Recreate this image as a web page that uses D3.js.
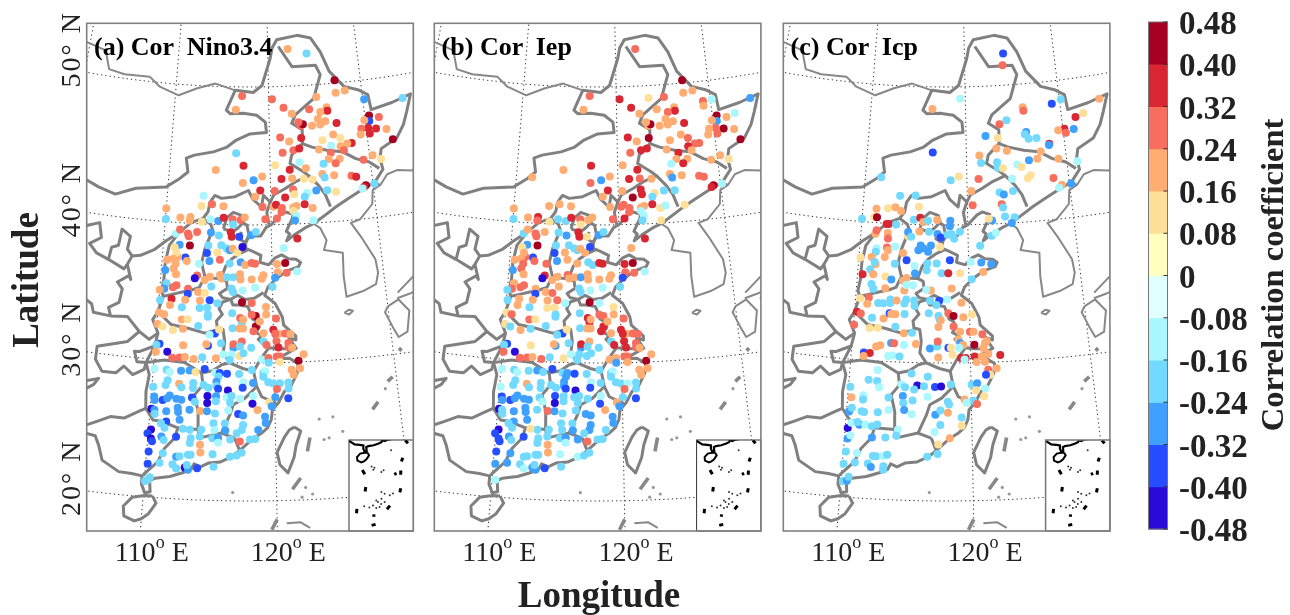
<!DOCTYPE html>
<html><head><meta charset="utf-8">
<script src="https://cdn.jsdelivr.net/npm/d3@7"></script>
<style>html,body{margin:0;padding:0;background:#fff}svg{display:block;filter:blur(0.45px)}text{font-family:"Liberation Serif",serif}</style>
</head><body><div id="chart"></div>
<script>
// ---------- labels and colour classes ----------
const panelTitles=["(a) Cor  Nino3.4","(b) Cor  Iep","(c) Cor  Icp"];
const barTicks=[0.48,0.40,0.32,0.24,0.16,0.08,0,-0.08,-0.16,-0.24,-0.32,-0.40,-0.48];
const barLabels=["0.48","0.40","0.32","0.24","0.16","0.08","0","-0.08","-0.16","-0.24","-0.32","-0.40","-0.48"];
const classColors=["#290ad8","#264dff","#3fa0ff","#72d9ff","#aaf7ff","#e0ffff","#ffffbf","#ffe099","#ffad72","#f76d5e","#d82632","#a50021"];
const lonTicks=[110,120];
const latTicks=[50,40,30,20];
const gridLons=[100,110,120,130,140];
const gridLats=[20,30,40,50];

// ---------- stations: lon, lat, r(Nino3.4), r(Iep) ----------
const stationsAB=[
[122.25,52.7,.2,.28],[124.35,52.3,-.2,null],[127.2,50.2,.44,.44],[125.1,49.1,.2,.28],[127.2,49.3,.2,.2],[128.2,49.4,.2,.2],[130.15,48.6,-.28,-.12],[134.2,48.3,-.2,-.28],[117.15,49.35,.28,.28],[120.35,49.1,.28,.36],[116.5,48.35,.2,.2],[121.55,48.45,.28,.36],[122.4,48,.2,.2],[124.25,48.25,.28,.2],[126.1,48.3,.2,.2],[126.15,48.05,.36,.36],[125.4,48,.2,.28],[125.1,47.5,.2,.2],[125.85,47.3,.2,.2],[125.3,47.1,.2,.2],[124.45,47.05,.2,.2],[123.25,47.1,.28,.2],[123.5,47.2,.44,.44],[123.05,47.35,.28,.2],[127,47.1,.36,.36],[130.45,47.4,.44,.44],[130.4,47,-.36,-.28],[131.45,47.2,.28,.2],[129.9,47.1,.2,.2],[130.2,46.5,.36,.28],[129.5,46.5,.28,.2],[131,46.4,.36,.44],[130.3,46.1,.36,.28],[129.35,46.1,.2,.2],[132.05,46.25,.2,.2],[132.55,45.45,.44,.44],[126.55,46.3,.2,.2],[127.25,46,.12,.28],[125.4,45.95,.12,.2],[123.25,46.2,.36,.44],[121.1,46.3,.28,.36],[122,46,.2,.2],[126.25,45.5,-.12,null],[128.35,45.55,.36,.28],[127.9,45.55,.2,.28],[127.2,45.4,.2,.36],[127.5,45.1,.28,.2],[126.15,45,.28,.36],[125,45.3,.2,.2],[122.4,45.35,.28,.36],[123,45.45,.36,.36],[121.3,45.2,.28,.28],[116.6,45.2,-.2,null],[125.9,44.55,.2,.2],[127,44.5,.2,.2],[126.55,44.2,.28,.36],[125.35,44.25,-.2,-.12],[122.95,44.45,-.12,null],[129.35,44.25,.28,.2],[130.3,44.5,.2,.2],[131.1,44.15,.12,.12],[123.55,44,.2,null],[117.35,44.3,.36,.36],[120.5,44.3,.12,.2],[121.95,43.95,.36,.36],[114.6,43.95,.2,.2],[125.15,43.5,.2,.2],[126.3,43.35,.2,.2],[125.35,43.25,-.2,-.28],[128,43.2,.28,.28],[128.45,43.1,.36,.28],[121.1,43.3,.36,.36],[122.15,43.3,.2,.28],[123.3,43.25,.12,.2],[124.15,43.15,.12,null],[119.2,43.5,.2,.2],[118.35,43.25,-.28,-.28],[117.3,43.05,.2,.28],[129.3,42.4,.44,.44],[129.1,42.3,.36,.36],[130.15,42.45,-.2,-.12],[128.95,42.2,-.12,null],[124.45,42.35,-.28,-.2],[125.5,42.3,-.2,-.2],[126.35,42.15,.12,null],[122.2,42.5,.28,.36],[119,42.5,.36,.36],[120.4,42.45,.28,.2],[113.5,42.05,-.12,null],[123.55,42.2,-.12,.12],[123.3,41.95,-.2,-.2],[122.3,42.15,.12,.36],[121.4,41.95,.36,.44],[118.5,42.05,.2,.2],[119.2,41.3,.28,.2],[120.25,41.3,.2,.28],[120.5,41.45,.36,.28],[121.05,41.2,.28,.28],[121,40.9,.28,.28],[122.15,41.2,.2,.2],[122.45,41.3,.2,.2],[123.25,41.4,.36,.36],[124,41.1,.2,.12],[122.15,40.95,.12,-.12],[120.55,40.45,.28,.36],[119.45,40.4,.28,.28],[122.4,40.6,-.12,-.12],[122.25,40.25,-.28,-.2],[124,40.2,-.12,.12],[126.35,41.2,null,.12],[124.5,41.25,null,-.12],[123.45,49.1,null,.12],[132.35,47.4,null,-.12],[129.2,48.55,null,.28],[129.2,48.2,null,.2],[111.55,43.3,null,.2],[122.4,38.95,.36,.36],[121.1,38.3,-.12,.2],[121.2,37.2,.44,.44],[120.45,37.15,.2,.36],[122.25,36.55,-.12,-.12],[121.3,36.5,.28,.28],
[110,40.95,.2,.2],[113.35,41.3,.12,.2],[114.35,41.45,.28,.2],[115.45,41.33,.2,.2],[110.05,40.2,-.2,-.2],[111.4,40.37,.2,.2],[112.35,40.46,.2,.36],[112.3,40.2,.2,.28],[113.45,40.15,.12,.12],[114.25,40.36,-.12,-.2],[115,40.26,-.28,-.2],[115.5,40.5,.36,.36],[116.35,40.4,.28,.28],[117.1,40.35,.28,.2],[117.5,40.55,.2,.2],[116.4,40.03,-.2,.12],[111.1,39.19,-.12,-.2],[111.45,39.5,.28,.2],[112.2,39.25,.28,.28],[112.3,39.05,.28,.28],[113.05,39.4,.28,.2],[114.35,39.4,-.28,-.2],[115.1,39.2,-.2,-.28],[116.2,39.47,.36,.36],[116.3,39.13,.36,.36],[117,39.15,-.36,.12],[118.1,39.25,-.28,-.28],[118.55,39.5,-.2,-.2],[111.5,38.4,-.28,-.28],[111.05,38.2,.12,.12],[112.45,38.4,.44,.44],[114.15,38.45,-.2,-.2],[114.05,37.9,-.36,-.36],[115,37.97,.12,.2],[115.35,38.5,-.2,-.2],[115.85,38.27,-.2,-.2],[116.15,38.15,-.28,-.2],[116.4,38.27,.2,.2],[116.85,38,.12,.2],[117.3,38.4,-.44,-.36],[117.15,37.3,-.28,-.2],[112.1,37.5,-.36,-.36],[112.25,37.25,.2,.28],[111.4,37.5,.2,.28],[111.25,37.8,.12,.2],[113.35,37.1,-.12,.28],[114.3,37.33,-.28,-.28],[115.25,37.45,.28,.2],[116.15,37.2,-.2,.2],[117.55,37.1,.2,-.2],[118.15,37.25,.28,.36],[118.45,37.2,.28,.36],[110.45,37.25,.2,.2],[111,37.35,.2,.2],[111.25,37,.2,.28],[110.35,36.5,-.28,-.28],[111.1,36.65,.2,.28],[111.35,36.25,.2,.2],[110.55,35.55,-.2,.2],[110.4,35.14,-.28,.28],[111.45,35.45,.28,.28],[111.15,35.3,.28,.28],[110,35.05,.2,-.2],[113.25,36.25,.28,.36],[113.05,36.05,-.44,-.44],[113.95,35.95,.2,.2],[114.4,36.2,.2,.2],[115.3,36.35,.2,.28],[115.45,36.1,.2,.2],[115.95,36.2,-.2,.2],[116.5,36.2,-.2,-.28],[117.1,36.42,.2,.2],[117.15,36.05,.2,.2],[118.15,36.05,.2,.2],[119.2,36.35,.2,.2],[119.05,36.1,.2,.2],[120.5,36.55,.2,.28],[120.25,36.15,-.28,-.36],[120,35.5,-.2,-.2],[112.5,35.25,.28,.2],[112.5,34.9,-.36,-.36],[113.4,35.05,.2,.2],[114,35,.12,.28],[114.55,35.5,-.2,.2],[116.35,35.38,-.2,-.2],[116.5,35.14,-.2,-.2],[117.35,35.26,-.12,-.12],[118.45,35.45,-.12,-.12],[110.1,34.3,-.2,-.2],[111.1,34.45,.36,.2],[112.3,34.45,.2,.2],[113.6,34.45,.2,.2],[114.45,34.5,-.36,.28],[115.15,34.3,-.2,-.12],[113.6,33.9,-.2,.12],[114.25,33.95,-.2,.12],[112.05,33.9,-.2,-.2],[111,34,.2,.2],[110.1,33.4,.2,.12],[110.55,33.3,.2,.28],[114.35,33.3,-.2,-.2],[112.1,33,.2,.28],[112.6,33.05,.12,.12],[117.3,34.4,.44,.44],[118.15,34.35,.28,-.12],[119.4,34.05,.2,.12],[118.5,33.4,.44,.28],[117.3,32.95,-.2,.36],[118.5,32.65,.44,.36],[118.85,33,.2,.2],[120.25,33.2,.28,.28],
[116.45,33.6,-.2,-.2],[117.15,33.25,.28,.36],[117.4,33.15,.2,.2],[118.15,33.5,.28,.28],[119.4,33.5,.2,.2],[118.3,32.3,.28,.36],[116.5,32.5,-.2,-.2],[117.1,32.5,.2,.2],[117.4,32.5,.2,.2],[120,32.4,.36,.36],[120.45,32.1,.2,.2],[121,32.1,.28,.28],[121.45,32.05,.2,.28],[120.15,32.1,.28,.36],[119.15,32.15,.2,.2],[114.35,33.45,-.2,-.2],[110.05,32.55,.2,.12],[110.5,32.4,.12,-.2],[111.4,32.2,.12,.2],[112.25,32.35,.2,-.2],[113.55,32.6,-.2,-.2],[115,32.1,-.36,-.36],[114.55,32,-.12,-.2],[115.35,32.4,.12,.12],
[110.35,31.15,-.36,-.36],[110.1,31.05,-.2,-.2],[112.35,31.15,.2,.12],[114.45,31.2,-.36,-.28],[114.3,31.3,.2,.2],[115.55,31.4,-.2,-.2],[116.6,31.1,-.28,-.28],[116.6,31.35,.28,.36],[117.3,31.55,.28,.2],[117.15,31.2,-.2,-.2],[118.1,31.1,-.2,-.2],[119.15,31.55,-.2,-.2],[119.4,31.3,.28,.36],[120.25,31.55,.28,.36],[120.4,31.1,.36,.36],[121.25,31.4,.28,.28],[121.25,31.1,.28,.28],[121.55,31.05,.2,.2],[110.1,30.55,.2,.28],[111.05,30.6,-.44,-.44],[111.5,30.2,.28,.28],[112.1,30.25,.28,.28],[112.55,30.3,.2,.2],[113.3,30.2,.2,.28],[114,30.35,-.2,-.2],[115.15,30.3,.2,.12],[115.75,30.6,-.12,-.12],[116.45,30.6,-.12,-.2],[116.3,30.2,-.2,-.2],[117.1,30.5,.12,-.2],[117.45,30.7,-.2,-.2],[119,30.25,-.12,.2],[119.55,30.35,.28,.2],[119.55,30,-.2,-.28],[120.25,30.45,.28,.28],[120.5,30.45,.28,.28],[120.5,30.05,.12,.2],[122.05,30.1,.44,.44],[122.5,30.55,.2,.2],
[110.1,29.3,-.12,-.12],[111.1,29.3,-.2,-.2],[111.35,29.15,-.12,-.12],[112.3,29.3,-.28,-.2],[113,29.35,-.28,-.28],[113.5,29.25,.12,-.2],[114.25,29.5,-.36,-.36],[115.1,29.25,-.12,-.2],[115.5,29.25,-.36,-.28],[116.1,29.2,-.36,-.36],[117.1,29.2,-.2,-.2],[115.4,29,-.2,-.28],[118.15,29.5,-.2,-.2],[119.1,29.25,-.2,-.2],[119.25,29.4,-.12,-.12],[121.45,29.45,.2,.2],[121.6,29.1,.2,.2],[122.15,29.55,.2,.2],[119.1,29,-.2,-.2],
[111.25,28.55,-.2,-.2],[111.1,28.2,-.2,-.2],[110.1,28,-.2,-.12],[112.2,28.35,.2,.2],[112.4,28.1,-.2,-.2],[113.35,28.45,-.2,-.2],[113.35,28.1,-.2,-.2],[114.2,28.35,-.2,-.2],[115.25,28.6,-.28,-.28],[115.25,28.3,-.2,-.28],[114.6,28.15,-.2,-.2],[117.45,28.6,-.12,-.12],[118.25,28.55,-.28,-.2],[115.4,28.1,-.36,-.36],[116.2,28,-.44,-.44],[117.4,28.2,-.36,-.36],[119.5,28.6,-.2,-.2],[119.9,28.5,-.2,-.2],[120.45,28.5,-.2,-.12],[121.15,28.55,-.2,-.2],[120.2,28.1,.28,.28],[121.15,28.1,-.2,-.2],
[110.25,27.3,-.28,-.36],[110.3,27.05,-.28,-.28],[110.95,27.1,-.36,-.36],[111.3,27.25,-.28,-.28],[111.5,27.45,-.28,-.28],[112.05,27.25,-.28,-.28],[112.45,27.2,-.28,-.28],[113.3,27.4,-.36,-.2],[113.55,27.1,-.2,-.12],[114.55,27.55,-.44,-.36],[114.55,27.05,-.44,-.44],[115.25,27.55,-.28,-.2],[115.25,27.2,-.2,-.2],[116.1,27.5,-.12,-.2],[116.5,27.6,-.2,-.2],[117.2,27.4,-.12,-.2],[118.25,27.6,-.12,-.12],[118.2,27.05,-.44,-.36],[119.55,27.15,.12,.2],[120.05,27.5,-.28,-.2],[121.1,27.4,-.36,-.36],[116.4,27.1,-.2,-.2],
[110.1,26.4,-.44,-.44],[110.35,26.35,-.28,-.2],[110.4,26.05,-.2,-.2],[111.3,26.3,-.28,-.28],[112.2,26.6,-.28,-.28],[112.25,26.3,-.28,-.28],[113.15,26.5,-.28,-.2],[114,26.45,.2,.28],[114.55,26.45,-.28,-.28],[115.2,26.3,-.2,-.2],[116.25,26.55,-.12,-.2],[117.05,26.3,-.36,-.28],[117.45,26.2,-.28,-.28],[118.6,26.6,.2,.2],[119.2,26.1,-.28,-.28],[119.75,26.85,-.28,-.28],
[111.35,25.55,-.36,-.28],[110.95,25.4,-.2,-.2],[112.4,25.75,-.28,-.28],[110.2,24.9,-.44,-.44],[111.25,25.1,-.2,-.2],[115.1,25.6,-.2,-.2],[115.2,25.1,-.12,-.2],[116,25.6,-.2,-.2],[117.45,25.5,-.2,-.28],[117.35,25.15,-.2,-.28],[116.95,24.9,-.2,-.2],[113.25,25.05,-.2,-.2],[112.7,25.1,-.2,.12],[114.15,25.1,-.2,-.2],[118.65,25.15,-.28,-.2],[119.25,25.65,-.28,-.28],[116.05,25.1,-.28,-.28],[109.95,24.6,-.36,-.36],
[110.25,24.25,-.44,-.36],[110.35,24.05,-.36,-.36],[111.05,24.45,-.28,-.28],[111.25,24.2,-.2,-.2],[112.2,24.5,-.36,-.36],[113.35,24.45,-.2,-.2],[114.05,24.6,-.2,-.2],[115.05,24.5,-.2,-.2],[115.5,24.55,-.28,-.28],[115.5,24.2,-.12,-.12],[116.45,24.45,-.2,-.28],[117.2,24.3,.28,.28],[118,24.45,-.2,-.2],[118.4,24.5,-.2,-.2],[114.1,24,.2,.2],[113.3,24.1,-.2,-.2],
[110.15,23.3,-.36,-.36],[111.25,23.25,-.2,-.28],[114.15,23.45,.2,.2],[115.1,23.35,-.2,-.12],[111.05,22.55,-.2,-.28],[112.3,23.05,-.28,-.2],[112.55,23.1,-.2,-.2],[113.2,23.25,-.2,-.2],[113.4,23.25,-.2,-.2],[116.45,23.2,-.2,-.12],[116.95,23.3,-.2,-.2],[117.35,23.5,-.2,-.2],[110.15,22.4,-.36,-.28],[112.05,22.5,-.2,-.2],[112.35,22.2,-.2,-.12],[113,22.3,-.44,-.28],[113.25,22.15,-.28,-.28],[113.15,22.5,-.2,-.2],[113.95,22.3,-.36,-.36],[115.2,22.45,-.2,-.2],[110.25,21.25,-.2,-.12],[110.4,21.45,-.2,null],[110.05,21.15,-.2,null]
];

// ---------- stations of panel (c): lon, lat, r(Icp) ----------
const stationsC=[
[124.35,52.3,-.36],[124.2,51.45,.28],[116.5,48.39,.2],[119.45,49.15,-.12],[129.15,48.35,-.36],[130.15,48.6,-.2],[134.2,48.25,.2],[126.05,48.3,.2],[126.1,48.05,.28],[131.45,47.2,.36],[132.3,47.4,.12],[123.5,47.2,.28],[124.25,47.45,-.2],[122,46.4,-.28],[123.25,46.2,.12],[130.15,46.45,.36],[130.25,46.15,.28],[129.5,46.4,.2],[131.1,46.35,-.28],[126.2,46.5,-.28],[126.05,46.35,-.2],[126.4,46,-.2],[127.2,46,-.2],[128.45,45.5,.36],[128.4,45.4,-.28],[123.05,45.45,.2],[124.1,45.25,.2],[127.5,45,.2],[116.6,45.25,-.36],[121.3,45,.2],[121.45,44.45,-.2],[123.05,44.45,-.2],[123.1,44.05,-.2],[123.6,44,.12],[125.05,44.2,-.12],[125.45,44,.12],[126.25,44.45,-.28],[127.1,44.5,.2],[129.2,44.35,.2],[131.05,44,-.12],[118.4,43.25,-.2],[119.2,43.5,.12],[121.15,43.3,.28],[111.55,43.3,-.2],[124.45,43.2,-.12],[126.3,43.35,.12],[126,43.15,.12],[128.5,43,.28],[129.25,42.45,.2],[130.15,42.45,-.28],[128.95,42.25,-.12],[120.4,42.45,.2],[123.15,42.25,-.2],[123.55,42.1,-.28],[124.45,42.3,-.2],[113.5,42.05,-.2],[115,42.1,-.2],[115.35,41.3,.12],[111.3,41,.2],[112.4,41.1,.12],[113.1,41.2,.2],[113.65,40.95,.2],[120.5,41.4,.28],[123.3,41.4,.28],[123.4,41.15,-.2],[123.55,40.5,-.2],[124.45,40.4,-.2],[124.15,40,-.28],[122.3,40.25,-.28],[122,40.4,.12],[110,40.2,-.2],[111.15,40.4,.12],[111.4,40.4,.44],[112.35,39.95,.36],[112.55,39.95,.36],[113.25,39.95,-.2],[114.9,40.35,-.2],[115.5,40.5,.36],[115.8,40.2,.2],[116.25,40.3,-.2],[117.1,40.35,.2],[118.35,40.3,-.28],[111.35,39.2,.2],[111.45,39.45,.28],[112.5,39.3,.2],[112.55,38.9,.28],[114.4,39.15,.12],[114.4,39.45,-.28],[115.45,39.5,.2],[116.35,39.5,-.2],[117.15,39.35,-.28],[117.45,39.1,-.36],[118.3,39.9,-.28],[118.45,39.35,-.2],[118.1,39.3,-.2],[119.25,39.5,-.2],[118.7,39,-.2],[122.2,39.15,-.2],[122.6,39.35,-.12],[121.1,38.45,-.2],[111.55,38.15,-.12],[111.5,37.9,-.2],[112.5,38.25,.28],[112.6,38.05,.2],[113.25,38.35,-.12],[114,37.9,.2],[114.7,39.1,-.2],[115.6,38.5,-.28],[115.4,38.15,-.28],[115.85,38.3,-.28],[116.55,38.5,-.28],[116.3,38.05,-.28],[117.4,38.4,.12],[110.15,37.4,.12],[111.15,37.5,.2],[112.35,37.55,.2],[111.55,37,.2],[111.45,37.15,-.2],[113.3,37.1,-.2],[114.35,37.4,-.36],[115.1,37,-.12],[116.25,37.2,-.2],[117.1,37.2,-.2],[118.3,37.45,-.36],[120.2,37.3,-.12],[121.15,37.25,-.28],[122.05,37.1,-.28],[110.45,36.2,.36],[111.1,36.6,-.2],[111.4,36.25,.2],[112.5,36.15,.12],[113.05,35.95,-.28],[114.1,35.9,.2],[114.4,36.1,.2],[115.15,36.45,-.28],[116.2,36.7,-.2],[117.55,36.5,-.2],[118.15,36.5,.36],[119.2,36.5,.12],[121.3,36.55,.2],[120.25,36.05,-.2],[111.3,35.55,-.2],
[111.5,35.2,-.2],[112.55,35.3,.2],[114.25,35.2,.2],[114.4,35.6,-.12],[115,35.6,-.12],[116.6,35.25,.2],[116.2,35.3,-.12],[118.45,35.4,.2],[110.4,34.45,.12],[111.15,34.55,.28],[111.05,34.1,.2],[112,34.2,-.2],[112.45,34.2,-.2],[113.05,34.5,-.2],[113.05,34.25,-.2],[113.6,34.45,.2],[114.3,34.25,-.2],[114.45,34.55,-.2],[115.15,34.5,-.2],[115.2,34.1,-.2],[116.55,34.5,-.2],[117.35,34.5,-.36],[117.1,34.2,-.2],[118.05,34.6,-.12],[119.3,34.35,.2],[116.45,33.6,-.2],[110.2,33.45,.36],[110.55,33.35,.28],[111.55,33.1,-.2],[112.55,33.1,.2],[113.05,33.5,-.36],[113.2,33.45,.2],[113.55,33.45,.2],[114.35,33.5,-.2],[118.15,33.6,.28],[118.6,33.4,.44],[117.3,33.4,-.2],[117.4,33.15,-.2],[120.2,33.5,.12],[119.45,33.3,.2],[110.05,32.5,.28],[111.4,32.35,.12],[112.1,32.4,.12],[113.6,32.55,-.2],[114.35,32.1,.2],[115.05,32.15,-.2],[117.3,32.6,.2],[118.6,32.65,.28],[117.5,33.1,.2],[119.15,32.25,.2],[120,32.25,.28],[120.3,32.25,.2],[121.05,32.05,.28],[119,31.7,.2],[119.15,31.45,-.28],[119.4,31.3,.2],[120.35,31.3,.44],[121.25,31.4,.2],[121.4,31.55,.2],[121.1,31.05,.2],[121.5,30.6,.2],[112.05,31.05,.2],[112.4,31.15,.2],[113.3,31.35,-.28],[113.55,31.35,.28],[114.4,31.25,-.12],[115.4,31.35,.2],[116.6,31.05,-.28],[117.2,31.2,-.2],[117.25,31.55,.28],[118.15,31.1,-.36],[118.35,31.1,.12],[119.05,31.1,-.12],[111.05,30.55,-.36],[111.55,30.55,.36],[111.05,30.3,.2],[113.1,30.4,-.12],[113.45,30.45,-.12],[114.05,30.4,-.2],[117.3,30.4,.2],[118.5,30.6,.12],[119.2,30.35,.36],[119.6,30.35,.36],[119.5,30.25,-.12],[120.35,30.45,.36],[120.95,30.45,.2],[120.5,30.05,.2],[121.2,30.05,.2],[122.5,30.5,.36],[122.15,29.55,.2],[121.45,29.45,.28],[121.6,29.1,.12],[121.25,29.1,-.36],[112.3,29.35,-.12],[111.6,28.6,-.2],[112.3,28.55,-.2],[112.5,28.1,-.12],[110.15,28,-.2],[115.1,29.2,-.2],[116.45,29,-.2],[114.3,28.4,-.12],[114.6,28.2,-.2],[115.6,28.35,-.44],[116.15,28.3,-.2],[117.05,28.25,-.36],[117.55,28.3,-.44],[118.35,28.45,-.2],[120.05,28.4,-.2],[120.5,28.5,-.28],[121.15,28.1,-.12],[120.4,28,.12],[111.25,27.45,-.12],[111.25,27.15,-.2],[110.3,27.25,.2],[113.3,27.4,-.2],[114.45,27.55,-.28],[114.5,27.05,-.2],[115.25,27.25,-.2],[115.35,28.05,-.2],[116.45,27.55,-.12],[118.1,27.2,-.2],[118.2,27,-.2],[119.45,27.35,.2],[121.05,27.55,.12],[120.15,27.25,-.2],[120.45,27,.28],[119.6,27.1,-.12],[110.2,26.2,-.28],[110.4,26.5,-.2],[111.2,26.3,-.2],[111.4,26.25,-.2],[112.5,26.3,-.2],[113.35,26.5,-.12],[114.6,26.55,-.28],[115.2,26.25,-.12],[117.1,26.25,-.28],[117.5,26.55,-.2],[118.1,26.4,.2],[119.2,26.05,-.2],[110.2,25,-.44],[110.45,25.4,-.12],[111.1,25.3,-.28],[111.55,25.35,-.12],[112.1,25.25,-.2],[112.5,25.4,-.2],[110.95,25.5,-.2],[114.15,25.1,-.12],[117.5,25.5,-.2],[117.05,25,-.12],[119.2,25.45,.12],[110.25,24.25,-.28],[110.45,24.5,-.12],[112.15,24.45,-.28],[113.2,24.5,-.2],[114.05,24.65,-.2],[118.25,24.55,.2],[117.35,24.1,.12],[110.2,23.3,-.2],[111.05,23.25,-.12],[112.3,23.1,-.2],[112.55,23.1,-.2],[113.1,23.15,-.12],[113.4,23.25,-.2],[116.5,23.2,-.2],[117.3,23.4,-.2],[110.95,22.55,-.2],[110.1,22.4,-.2],[111.95,22.55,-.2],[112.2,22.3,-.28],[113.15,22.4,-.2],[113.15,22.15,-.2],[110.15,21.15,-.2],[110.45,21.2,-.28],[110.55,21.5,-.2]
];

// ---------- geography in lon/lat ----------
const northBorder=[[101.8,42.4],[103.3,41.95],[105,41.6],[106.9,42.2],[109.8,42.5],[111.1,43.2],[111.85,43.7],[111.6,44.7],[112.4,44.95],[114.3,45.25],[115.6,45.6],[116.6,46.15],[118,46.6],[119.7,46.7],[119.6,47.45],[118.7,47.95],[117.3,48.1],[115.9,48.05],[115.5,48.3],[116.4,49.75],[118.35,49.6],[119.3,50.1],[120.25,52.05],[120.5,52.8],[121.05,53.4],[123.4,53.65],[124.9,53.4],[125.9,52.35],[126.7,50.9],[128.15,49.7],[129.6,49.35],[130.6,48.9],[130.75,47.8],[133,48.1],[135.1,48.5],[134.4,47.3],[133.85,46.4],[132.95,45.5],[131.25,44.9],[131,44.2],[131.15,43.4],[130.2,42.55],[129.1,42.2],[127.4,41.55],[126.2,41.05],[125.5,40.7],[124,39.95]];
const eastCoast=[[124,39.95],[123.2,39.7],[122.1,39.2],[121.4,38.8],[121.7,39.3],[121.4,39.5],[122,40.4],[122.1,40.7],[121.4,40.9],[120.9,40.7],[120,40],[119.5,39.8],[119,39.2],[118,39.2],[117.6,38.8],[117.6,38.3],[118.2,38.1],[119,37.8],[118.9,37.3],[119.7,37.1],[120.3,37.6],[120.9,37.8],[121.5,37.5],[122.2,37.45],[122.6,37.2],[122.4,36.9],[121.6,36.7],[120.9,36.4],[120.3,36.05],[119.6,35.5],[119.3,34.9],[120.2,34.3],[120.8,33.3],[120.9,32.7],[121.9,31.9],[121.9,31.6],[121.3,31.8],[121.9,31],[121,30.6],[120.3,30.3],[121.3,30.3],[122,29.9],[121.9,29.2],[121.6,28.7],[121.3,28.2],[120.8,27.9],[120.3,27.1],[119.8,26.6],[119.7,25.9],[119.4,25.3],[118.9,24.9],[118.2,24.5],[117.6,24],[117,23.5],[116.6,23.2],[115.7,22.8],[114.8,22.7],[114.2,22.4],[113.7,22.6],[113.5,22.2],[112.8,21.9],[111.9,21.6],[110.8,21.4],[110.4,21.2],[110.5,20.4],[110.1,20.3],[109.8,20.9],[109.8,21.5],[109,21.6],[108,21.65],[106.65,22.35],[106.25,23.4],[105.9,24.05],[105.1,24.15]];
const hainan=[[110.7,20.1],[111,19.6],[110.5,18.8],[110,18.4],[109.5,18.2],[108.7,18.5],[108.6,19.2],[109.2,19.9],[110.1,20.1],[110.7,20.1]];
const taiwan=[[121.5,25.3],[122,25],[121.6,24],[121.4,23.1],[120.9,22],[120.3,22.6],[120.1,23.5],[120.7,24.6],[121.1,25.1],[121.5,25.3]];
const provinceLines=[
[[121.2,52.9],[122.65,51.4],[125.25,51.4],[125.7,50.7],[124.8,49],[122.75,47.9],[122.35,47.3],[123.4,46.8],[123.35,45.8],[122.2,45],[122,44.4],[123.3,43.75],[123.8,43.45],[122.45,43.05],[121.45,42.6],[120.3,42.15],[119.95,41.65],[119.3,42.15],[119.1,41.3],[118.3,41.85],[117.85,42.5],[116.55,42.04],[115.25,41.9],[114.6,42.1],[114.15,41.6],[114,40.9],[113.55,40.4],[112.45,40.05],[111.4,39.3],[110.55,38.3],[110.3,37.05],[110.3,35.85],[110.15,35],[110.35,34.6],[110,33.45],[109.6,32.85],[110.15,31.9],[109.95,30.95],[109.35,29.7],[109.7,28.85],[109.55,27.6],[109.65,26.4],[110.3,25.6],[110.95,25.55],[112.3,25.15],[113.9,25.1],[113.85,26.4],[113.5,27.6],[114.15,28.35],[114,29.2],[112.55,29.9],[110.85,30],[109.35,29.7]],
[[123.35,45.8],[124.3,45.5],[125.8,45.2],[127.3,45],[128.6,44.4],[129.9,44.05],[130.8,43.5]],
[[123.8,43.45],[124.7,42.7],[125.3,42],[125.7,41.1]],
[[119.95,41.65],[119.6,40.9],[119.8,40]],
[[113.55,40.4],[114.3,40],[114.5,39.6],[113.85,38.2],[113.6,37.2],[113.8,36.6],[113.95,36.2],[113.5,35.4],[112.9,35.2],[112,35],[111,34.75],[110.35,34.6]],
[[115.5,39.7],[115.8,40.5],[116.4,40.9],[117.2,40.7],[117.4,40.2],[116.9,39.8],[116.4,39.5],[115.9,39.6],[115.5,39.7]],
[[117.2,40.2],[117.7,40],[117.9,39.3],[117.6,38.7],[117,39],[117.2,39.5]],
[[113.95,36.2],[114.8,36.1],[115.4,36.1],[115.8,37],[116.3,37.5],[117,37.9],[117.8,38.2]],
[[115.4,36.1],[115.9,35.9],[116,35.4],[115.3,35],[115.6,34.7],[116.3,34.6],[116.9,34.9],[117.6,34.6],[118.4,34.7],[119.2,35.1]],
[[116.3,34.6],[115.6,34.4],[115.3,33.9],[115.6,33.5],[115.1,33],[115.2,32.5],[115.7,32.4],[115.85,31.55],[115.75,30.7],[116.3,30],[117.4,29.6],[118.3,29.4],[118.9,30.3],[119.6,31.1],[120.4,31],[121,31]],
[[116.3,34.6],[116.5,34.2],[117,34.2],[117.8,34.1],[118,33.7],[118.2,33.2],[118.6,33],[118.8,32.6],[118.5,32.2],[119,32],[118.7,31.7],[119.2,31.3],[119.6,31.1]],
[[110,33.45],[111.2,32.6],[112.7,32.4],[114.15,32.1],[115.3,32.4]],
[[114,29.2],[114.9,29.4],[115.65,29.85],[116.3,30]],
[[118.3,29.4],[118.55,28.3],[118.95,27.55],[120,27.1],[120.2,26.9]],
[[118.55,28.3],[117.6,27.45],[116.65,26.97],[116.4,26.25],[115.75,24.9],[114.05,24.5],[113.9,25.1]],
[[116.8,24.55],[115.75,24.9]],[[116.8,24.55],[117.1,23.85],[117.3,23.5]],
[[112.3,25.15],[112.1,24.4],[111.35,23.6],[110.9,22.6],[109.85,21.55]],
[[103.55,33.8],[104.2,33.5],[104.45,32.9],[105.95,32.8],[107.4,32.9],[108.55,31.9],[109.45,31.4],[110.15,31.9]],
[[105.95,32.8],[105.7,33.4],[106.55,33.85],[106.7,34.85],[106.2,35.3],[107.15,35.85],[107.35,35.6],[106.9,36.65],[107.25,37.3],[108,37.4],[109.2,37.9],[110.2,38.6],[111.4,39.3]],
[[107.25,37.3],[106.75,37.75],[106.9,38.7],[106.05,39.15],[105.9,37.95],[105.3,37.75],[105.15,36.85],[106.65,36.3],[106.9,36.65]],
[[102.55,39],[103.9,39.4],[104.25,38.35],[103.25,37.8],[104,37.2],[105.15,36.85]],
[[108.55,31.9],[107.65,31.1],[105.15,30.5],[105.15,29.55],[105.8,28.75],[106.95,28.75],[107.55,29.3],[108.35,28.75],[109.25,29.2],[109.35,29.7]],
[[109.95,30.95],[108.7,30.45],[108.3,30.45],[108.6,29.7],[109.35,29.7]],
[[109.65,26.4],[109.15,26.15],[108,25.55],[106.9,25.55],[105.9,25.1],[105,24.7]],
[[105.1,24.15],[104.4,24.3]],
[[104.55,27.9],[105.6,28.2],[105.25,27.7],[104.6,27.3]]
];
const foreignLines=[
[[99.4,52.2],[101.85,51.8],[102.55,50.5],[104.3,50.3],[107.05,50.35],[108.25,49.7],[110.35,49.2],[112.3,49.8],[114.25,50.2],[116.4,49.75]],
[[130.2,42.55],[130.7,42.3],[131.5,43],[132.5,43.2],[134,43],[135.5,44]],
[[124,39.95],[124.6,39.6],[125.1,38.7],[124.8,38],[126.5,37.7],[126.4,36],[126.5,34.5],[128,34.8],[129.2,35.2],[129.5,36],[129.4,37],[128.4,38.6],[127.5,39.8],[128.4,40],[129.7,41],[129.9,42],[130.7,42.3]],
[[126.2,33.35],[126.6,33.55],[126.95,33.45],[126.6,33.2],[126.2,33.35]],
[[130,33.5],[131,33.9],[131.8,33],[131.4,31.5],[130.6,31.2],[130.2,32],[129.7,33.1],[130,33.5]],
[[130.9,34],[132,34.2],[134,34.7],[135,34.6]],[[131,34.4],[132.7,35.5],[135,35.7]],
[[132.2,33.9],[133.5,33.4],[134.5,33.7]],
[[120.7,18.35],[121.7,18.4],[122.4,17.95]]
];
const seaDashes=[[[129.7,28.4],[129.25,28.1]],[[128.3,26.7],[127.8,26.2]],[[130.5,30.4],[130.7,30.2]],[[122.7,24.5],[122.45,23.5]],[[121.85,21.6],[121.2,20.8]],[[120,18.65],[119.6,17.9]]];
const smallIslands=[[116.7,20.6],[125.3,24.8],[124.2,24.4],[123.8,24.3],[129,27.6],[122.2,20.9],[122.7,20.4],[121.9,20.2],[123.5,25.8],[124.6,25.9]];
const insetDashes=[[[109.75,16.7],[110.25,15.9]],[[117.75,19.05],[117.45,18.3]],[[117.25,16.55],[117.2,15.75]],[[115.95,15.85],[116.4,16.05]],[[110.5,13.4],[110.4,12.5]],[[117.1,13.1],[116.9,12.3]],[[115,9.75],[114.45,9.05]],[[109,9.05],[108.95,8.2]],[[111.7,5.9],[112.4,6.1]],[[112.1,8.05],[112.05,7.6]],[[118.45,22.45],[118.95,21.8]]];
const insetIslands=[[111.55,17.45],[111.9,16.8],[112.1,17.2],[113.45,16.35],[113.9,16.7],[115.45,20.6],[113.45,12.45],[114.05,12.1],[115,11.8],[115.6,12.1],[113.45,11.1],[112.5,10.8],[111.9,9.8],[112.8,10.5],[114.05,10.5],[113.1,9.5],[110.3,9.6],[111.25,9.4],[113.4,10.1],[112.5,9.3]];

// ---------- layout ----------
const W=1290,H=615;
const panelOffsets=[0,347.6,696.6];
const box={x0:86.7,x1:413.3,y0:23.3,y1:531};
const inset={x0:349,x1:413.3,y0:440,y1:531};
const svg=d3.select("#chart").append("svg").attr("width",W).attr("height",H);

function conic(k,lon0,anchorLat,cx,cy){
  const p=d3.geoConicEquidistant().parallels([35.17,35.17]).rotate([-lon0,0]).scale(790.7*k).translate([0,0]);
  const o=p([lon0,anchorLat]);
  return p.translate([cx-o[0],cy-o[1]]);
}
const mainProj=conic(1,118,30,250,363);
const insetProj=conic(0.37,113,19.3,379,457);
const color=d3.scaleQuantize().domain([-0.48,0.48]).range(classColors);
const path=d3.geoPath(mainProj), insetPath=d3.geoPath(insetProj);
const line=c=>({type:"LineString",coordinates:c});
const defs=svg.append("defs");
defs.append("clipPath").attr("id","clipMain").append("rect").attr("x",box.x0).attr("y",box.y0).attr("width",box.x1-box.x0).attr("height",box.y1-box.y0);
defs.append("clipPath").attr("id","clipInset").append("rect").attr("x",inset.x0).attr("y",inset.y0).attr("width",inset.x1-inset.x0).attr("height",inset.y1-inset.y0);

const panelData=[
  stationsAB.filter(d=>d[2]!==null).map(d=>[d[0],d[1],d[2]]),
  stationsAB.filter(d=>d[3]!==null).map(d=>[d[0],d[1],d[3]]),
  stationsC
];

panelOffsets.forEach((dx,i)=>{
  const g=svg.append("g").attr("transform",`translate(${dx},0)`);
  const m=g.append("g").attr("clip-path","url(#clipMain)");
  // graticule
  const grat=m.append("g").attr("fill","none").attr("stroke","#333").attr("stroke-width",1).attr("stroke-dasharray","1.3 3");
  gridLons.forEach(lo=>grat.append("path").attr("d",path(line(d3.range(5,66,1).map(la=>[lo,la])))));
  gridLats.forEach(la=>grat.append("path").attr("d",path(line(d3.range(85,151,1).map(lo=>[lo,la])))));
  // map
  const thin=m.append("g").attr("fill","none").attr("stroke","#888").attr("stroke-width",2).attr("stroke-linejoin","round");
  foreignLines.forEach(c=>thin.append("path").attr("d",path(line(c))));
  const bars=m.append("g").attr("fill","none").attr("stroke","#888").attr("stroke-width",3.6);
  seaDashes.forEach(c=>bars.append("path").attr("d",path(line(c))));
  m.selectAll("circle.isl").data(smallIslands).join("circle").attr("class","isl").attr("r",1.6).attr("fill","#999")
    .attr("cx",d=>mainProj(d)[0]).attr("cy",d=>mainProj(d)[1]);
  const thick=m.append("g").attr("fill","none").attr("stroke","#808080").attr("stroke-width",3).attr("stroke-linejoin","round");
  [northBorder,eastCoast,hainan,taiwan].concat(provinceLines).forEach(c=>thick.append("path").attr("d",path(line(c))));
  // stations
  m.append("g").selectAll("circle").data(panelData[i]).join("circle")
    .attr("cx",d=>mainProj(d)[0]).attr("cy",d=>mainProj(d)[1]).attr("r",4).attr("fill",d=>color(d[2]));
  // inset
  const ins=g.append("g");
  ins.append("rect").attr("x",inset.x0).attr("y",inset.y0).attr("width",inset.x1-inset.x0).attr("height",inset.y1-inset.y0).attr("fill","#fff");
  const ic=ins.append("g").attr("clip-path","url(#clipInset)").attr("fill","none").attr("stroke","#000");
  ic.append("path").attr("stroke-width",2.2).attr("d",insetPath(line(eastCoast)));
  ic.append("path").attr("stroke-width",2).attr("d",insetPath(line(hainan)));
  insetDashes.forEach(c=>ic.append("path").attr("stroke-width",3).attr("d",insetPath(line(c))));
  ic.selectAll("circle").data(insetIslands).join("circle").attr("r",1).attr("stroke","none").attr("fill","#333")
    .attr("cx",d=>insetProj(d)[0]).attr("cy",d=>insetProj(d)[1]);
  ins.append("rect").attr("x",inset.x0).attr("y",inset.y0).attr("width",inset.x1-inset.x0).attr("height",inset.y1-inset.y0).attr("fill","none").attr("stroke",i==2?"#777":"#333").attr("stroke-width",i==2?1.5:1);
  // frame
  g.append("rect").attr("x",box.x0).attr("y",box.y0).attr("width",box.x1-box.x0).attr("height",box.y1-box.y0).attr("fill","none").attr("stroke","#808080").attr("stroke-width",1.6);
  // title
  g.append("text").attr("x",94).attr("y",55).attr("font-size",26).attr("font-weight","bold").attr("fill","#000").attr("xml:space","preserve").style("white-space","pre").text(panelTitles[i]);
  // longitude ticks
  lonTicks.forEach(lo=>{
    const px=mainProj([lo,17.9])[0];
    const t=g.append("text").attr("x",px+11).attr("y",561).attr("text-anchor","middle").attr("font-size",28).attr("fill","#222");
    t.append("tspan").text(lo);
    t.append("tspan").attr("font-size",18).attr("dy",-13).text("o");
    t.append("tspan").attr("dy",13).text(" E");
  });
});

// latitude ticks, panel (a) only
latTicks.forEach(la=>{
  const lo=d3.range(85,110,0.1).find(l=>mainProj([l,la])[0]>=box.x0);
  const y=mainProj([lo,la])[1]+(la==50?15:25);
  svg.append("text").attr("transform",`translate(80,${y}) rotate(-90)`).attr("font-size",28).attr("letter-spacing",2).attr("fill","#222").text(`${la}° N`);
});

// axis titles
svg.append("text").attr("transform","translate(38,280) rotate(-90)").attr("text-anchor","middle").attr("font-size",37).attr("font-weight","bold").attr("fill","#222").text("Latitude");
svg.append("text").attr("x",599).attr("y",607).attr("text-anchor","middle").attr("font-size",37).attr("font-weight","bold").attr("fill","#222").text("Longitude");

// colour bar
const barY=d3.scaleLinear().domain([-0.48,0.48]).range([529,22]);
const bar=svg.append("g");
const edges=barTicks.slice().reverse();
bar.selectAll("rect.c").data(classColors).join("rect").attr("class","c").attr("x",1148.5).attr("width",19)
  .attr("y",(d,i)=>barY(edges[i+1])).attr("height",(d,i)=>barY(edges[i])-barY(edges[i+1])+0.5).attr("fill",d=>d);
bar.append("rect").attr("x",1148.5).attr("y",22).attr("width",19).attr("height",507).attr("fill","none").attr("stroke","#777").attr("stroke-width",1);
bar.selectAll("line").data(barTicks).join("line").attr("x1",1163.5).attr("x2",1167.5).attr("y1",d=>barY(d)).attr("y2",d=>barY(d)).attr("stroke","#333");
bar.selectAll("text").data(barTicks).join("text").attr("x",1179).attr("y",d=>barY(d)+12).attr("font-size",33).attr("font-weight","bold").attr("fill","#222").text((d,i)=>barLabels[i]);
svg.append("text").attr("transform","translate(1283,275) rotate(-90)").attr("text-anchor","middle").attr("font-size",32.5).attr("font-weight","bold").attr("fill","#222").text("Correlation coefficient");
</script></body></html>
